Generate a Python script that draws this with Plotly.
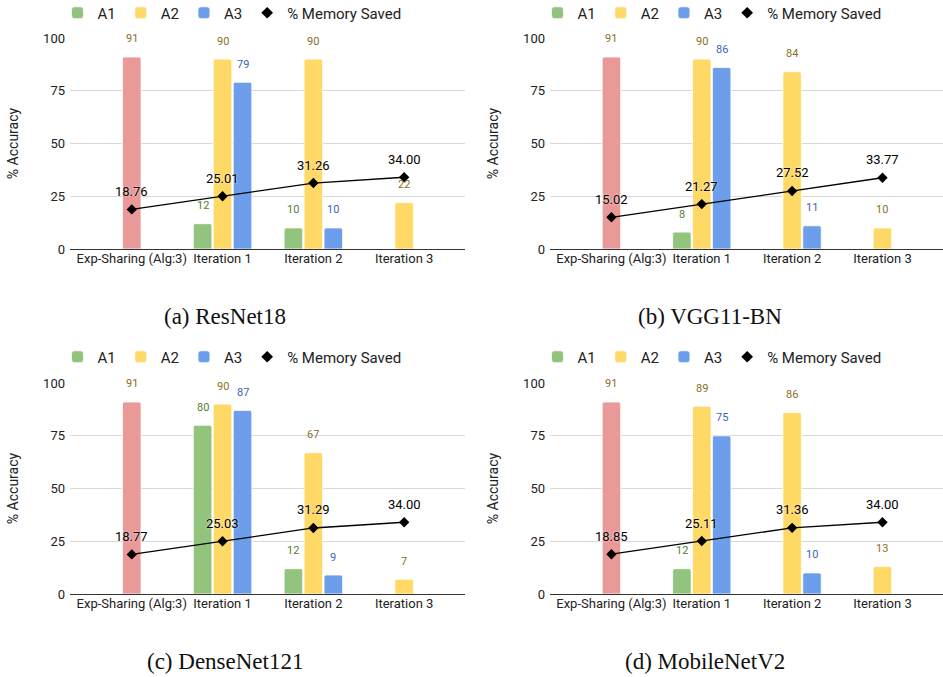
import plotly.graph_objects as go

categories = ["Exp-Sharing (Alg:3)", "Iteration 1", "Iteration 2", "Iteration 3"]
y_ticks = [0, 25, 50, 75, 100]
titles = ["(a) ResNet18", "(b) VGG11-BN", "(c) DenseNet121", "(d) MobileNetV2"]

# ResNet18
res_a1 = [None, 12, 10, None]
res_a2 = [91, 90, 90, 22]
res_a3 = [None, 79, 10, None]
res_mem = [18.76, 25.01, 31.26, 34.00]
# VGG11-BN
vgg_a1 = [None, 8, None, None]
vgg_a2 = [91, 90, 84, 10]
vgg_a3 = [None, 86, 11, None]
vgg_mem = [15.02, 21.27, 27.52, 33.77]
# DenseNet121
dense_a1 = [None, 80, 12, None]
dense_a2 = [91, 90, 67, 7]
dense_a3 = [None, 87, 9, None]
dense_mem = [18.77, 25.03, 31.29, 34.00]
# MobileNetV2
mob_a1 = [None, 12, None, None]
mob_a2 = [91, 89, 86, 13]
mob_a3 = [None, 75, 10, None]
mob_mem = [18.85, 25.11, 31.36, 34.00]

panels = [
    (res_a1, res_a2, res_a3, res_mem),
    (vgg_a1, vgg_a2, vgg_a3, vgg_mem),
    (dense_a1, dense_a2, dense_a3, dense_mem),
    (mob_a1, mob_a2, mob_a3, mob_mem),
]

C_A1, C_A2, C_A3, C_EXP = "#93c47d", "#ffd966", "#6d9eeb", "#ea9999"
L_A1, L_A2, L_A3 = "#4f7f35", "#8c6d1f", "#3c64b1"
FONT = "Roboto"

W, H = 943, 677
# pixel layout of the plot areas (left, right, top, bottom)
boxes = [(70, 465, 38, 249), (550, 943, 38, 249), (70, 465, 383, 594), (550, 943, 383, 594)]
legend_pos = [(232, 13), (712, 13), (232, 357), (712, 357)]
caption_pos = [(225, 316), (710, 316), (225, 661), (705, 661)]

fig = go.Figure()
annotations = []
layout = dict(
    width=W, height=H, margin=dict(l=0, r=0, t=0, b=0, autoexpand=False),
    paper_bgcolor="white", plot_bgcolor="white",
    barmode="group", bargap=0.34, bargroupgap=0.07,
    font=dict(family=FONT, color="#222"),
)

for i, (a1, a2, a3, mem) in enumerate(panels):
    n = i + 1
    xs = "x" if n == 1 else f"x{n}"
    ys = "y" if n == 1 else f"y{n}"
    lg = "legend" if n == 1 else f"legend{n}"
    common = dict(xaxis=xs, yaxis=ys, legend=lg)
    bar_style = dict(line=dict(color="white", width=0.8), cornerradius=2)

    fig.add_trace(go.Bar(x=categories, y=a1, name="A1", offsetgroup="1",
                         marker=dict(color=C_A1, **bar_style), **common))
    fig.add_trace(go.Bar(x=categories[1:], y=a2[1:], name="A2", offsetgroup="2",
                         marker=dict(color=C_A2, **bar_style), **common))
    fig.add_trace(go.Bar(x=categories[:1], y=a2[:1], name="Exp-Sharing", offsetgroup="2",
                         showlegend=False, marker=dict(color=C_EXP, **bar_style), **common))
    fig.add_trace(go.Bar(x=categories, y=a3, name="A3", offsetgroup="3",
                         marker=dict(color=C_A3, **bar_style), **common))
    fig.add_trace(go.Scatter(x=categories, y=mem, mode="lines+markers", showlegend=False,
                             line=dict(color="black", width=1.3),
                             marker=dict(symbol="diamond", size=8, color="black"), **common))
    fig.add_trace(go.Scatter(x=[None], y=[None], mode="markers", name="% Memory Saved",
                             marker=dict(symbol="diamond", size=9, color="black"), **common))

    l, r, t, b = boxes[i]
    layout["xaxis" if n == 1 else f"xaxis{n}"] = dict(
        domain=[l / W, min(r / W, 1.0)], anchor=ys, type="category",
        range=[-0.68, 3.67], showgrid=False, showline=False, ticks="",
        tickfont=dict(size=13, color="#222", family=FONT), fixedrange=True,
    )
    layout["yaxis" if n == 1 else f"yaxis{n}"] = dict(
        domain=[(H - b) / H, (H - t) / H], anchor=xs, range=[0, 100],
        tickvals=y_ticks, showgrid=True, gridcolor="#d9d9d9", gridwidth=1,
        zeroline=True, zerolinecolor="#333333", zerolinewidth=1.4,
        showline=False, ticks="", ticklabelstandoff=4,
        tickfont=dict(size=13, color="#222", family=FONT),
        title=dict(text="% Accuracy", font=dict(size=14, color="#222", family=FONT), standoff=21),
    )
    lx, ly = legend_pos[i]
    layout[lg] = dict(
        x=lx / W, y=(H - ly) / H, xanchor="center", yanchor="middle",
        orientation="h", font=dict(size=15, color="#222", family=FONT),
        bgcolor="rgba(0,0,0,0)", itemwidth=30, traceorder="normal",
    )

    for series, shift, col in ((a1, -20, L_A1), (a2, 0, L_A2), (a3, 20, L_A3)):
        for c, v in zip(categories, series):
            if v is None:
                continue
            annotations.append(dict(
                x=c, y=v, xref=xs, yref=ys, text=str(round(v)), showarrow=False,
                xshift=shift, yshift=18, yanchor="middle",
                font=dict(size=11, color=col, family=FONT),
            ))
    for c, v in zip(categories, mem):
        annotations.append(dict(
            x=c, y=v, xref=xs, yref=ys, text=f"{v:.2f}", showarrow=False,
            yshift=18, yanchor="middle",
            font=dict(size=13, color="black", family=FONT,
                      shadow="0px 0px 2px white"),
        ))

    cx, cy = caption_pos[i]
    annotations.append(dict(
        x=cx / W, y=(H - cy) / H, xref="paper", yref="paper", text=titles[i],
        showarrow=False, xanchor="center", yanchor="middle",
        font=dict(size=23, color="#111", family="Liberation Serif"),
    ))

layout["annotations"] = annotations
fig.update_layout(**layout)
fig.write_html(
    "out.html",
    config={"displayModeBar": False},
    post_script=(
        "var d=document.documentElement,b=document.body;"
        "d.style.margin='0';d.style.padding='0';d.style.overflow='hidden';"
        "b.style.margin='0';b.style.padding='0';b.style.overflow='hidden';"
    ),
)
